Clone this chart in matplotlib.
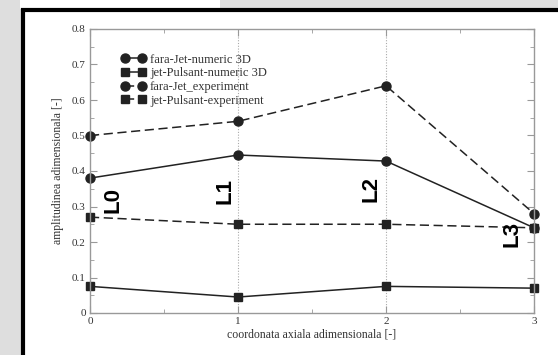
"""Amplitude along the axial coordinate: jet vs pulsed jet, numeric and experiment."""

import matplotlib.pyplot as plt
from matplotlib.patches import Rectangle
from matplotlib.ticker import MultipleLocator, FuncFormatter

# Data
x_pos = [0, 1, 2, 3]
fara_jet_num = [0.38, 0.445, 0.428, 0.24]
jet_puls_num = [0.075, 0.045, 0.075, 0.07]
fara_jet_exp = [0.50, 0.54, 0.64, 0.28]
jet_puls_exp = [0.27, 0.25, 0.25, 0.24]
series_names = ['fara-Jet-numeric 3D', 'jet-Pulsant-numeric 3D',
                'fara-Jet_experiment', 'jet-Pulsant-experiment']
station_labels = ['L0', 'L1', 'L2', 'L3']
station_x = [0.155, 0.91, 1.90, 2.85]
station_y = [0.318, 0.344, 0.35, 0.222]

serif = 'Liberation Serif'

fig = plt.figure(figsize=(5.58, 3.55), dpi=100, facecolor='#dedede')

# white panel with thick black frame
fig.patches.append(Rectangle((22.5 / 558, -0.1), 1.2, 1 - 10.5 / 355 + 0.1,
                             transform=fig.transFigure, facecolor='white',
                             edgecolor='black', linewidth=3, zorder=-2))
fig.patches.append(Rectangle((20 / 558, 1 - 9 / 355), 200 / 558, 9 / 355,
                             transform=fig.transFigure, facecolor='white',
                             edgecolor='none', zorder=-3))

ax = fig.add_axes([90 / 558, 1 - 313 / 355, 444 / 558, 284 / 355])
ax.set_facecolor('white')

for xv in [1, 2]:
    ax.axvline(xv, color='#aaaaaa', linestyle=(0, (1, 1.5)), linewidth=0.8, zorder=0)

line_kw = dict(color='#222222', linewidth=1.1, clip_on=False)
ax.plot(x_pos, fara_jet_num, '-', marker='o', markersize=6.5, label=series_names[0], **line_kw)
ax.plot(x_pos, jet_puls_num, '-', marker='s', markersize=5.5, label=series_names[1], **line_kw)
ax.plot(x_pos, fara_jet_exp, '--', marker='o', markersize=6.5, dashes=(6, 3),
        label=series_names[2], **line_kw)
ax.plot(x_pos, jet_puls_exp, '--', marker='s', markersize=5.5, dashes=(6, 3),
        label=series_names[3], **line_kw)

for lab, xs, ys in zip(station_labels, station_x, station_y):
    ax.text(xs, ys, lab, rotation=90, ha='center', va='center',
            fontsize=16, fontweight='bold', family='Liberation Sans')

ax.set_xlim(0, 3)
ax.set_ylim(0, 0.8)
ax.xaxis.set_major_locator(MultipleLocator(1))
ax.xaxis.set_minor_locator(MultipleLocator(0.5))
ax.yaxis.set_major_locator(MultipleLocator(0.1))
ax.yaxis.set_minor_locator(MultipleLocator(0.05))
ax.yaxis.set_major_formatter(FuncFormatter(lambda v, p: '0' if abs(v) < 1e-9 else f'{v:g}'))

for sp in ax.spines.values():
    sp.set_color('#999999')
    sp.set_linewidth(1.0)
ax.tick_params(which='both', direction='in', top=True, right=True,
               color='#999999', labelsize=8, labelcolor='#333333', pad=3)
ax.tick_params(which='major', length=5)
ax.tick_params(which='minor', length=3)
for t in ax.get_xticklabels() + ax.get_yticklabels():
    t.set_family(serif)

ax.set_xlabel('coordonata axiala adimensionala [-]', family=serif, fontsize=8.5,
              color='#333333', labelpad=2)
ax.set_ylabel('amplitudinea adimensionala [-]', family=serif, fontsize=8.5,
              color='#333333', labelpad=6)

leg = ax.legend(loc='upper left', bbox_to_anchor=(0.045, 0.953), frameon=False,
                numpoints=2, handlelength=2.0, handletextpad=0.3, labelspacing=0.14,
                prop={'family': serif, 'size': 9})
for t in leg.get_texts():
    t.set_color('#333333')

fig.savefig('out.png', dpi=100, facecolor=fig.get_facecolor())
